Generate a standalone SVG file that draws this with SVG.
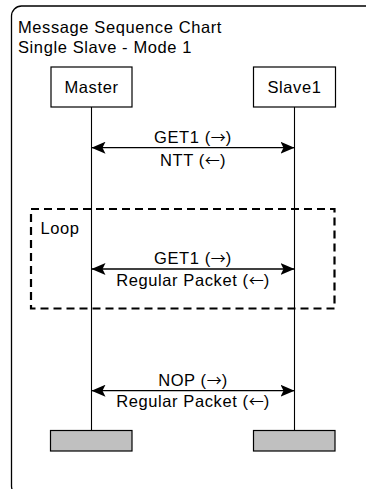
<svg xmlns="http://www.w3.org/2000/svg" width="366" height="489" viewBox="0 0 366 489">
<style>
text{font-family:"Liberation Sans",Arial,sans-serif;font-size:16.5px;letter-spacing:0.6px;fill:#000}
.c{text-anchor:middle}
.ar{font-family:"Noto Sans CJK SC","DejaVu Sans",sans-serif;font-size:15px;letter-spacing:0}
.box{fill:#fff;stroke:#000;stroke-width:1.2}
.end{fill:#c0c0c0;stroke:#000;stroke-width:1.2}
.life{stroke:#000;stroke-width:1.1;fill:none}
.msg{stroke:#000;stroke-width:1.3;fill:none;marker-start:url(#ah);marker-end:url(#ah)}
</style>
<defs>
<marker id="ah" markerUnits="userSpaceOnUse" markerWidth="15" markerHeight="12" refX="14" refY="6" orient="auto-start-reverse">
<path d="M0,0 L14,6 L0,12 L3,6 Z" fill="#000"/>
</marker>
</defs>
<g id="frame">
<rect x="11.5" y="6" width="370" height="490" rx="10" ry="10" fill="none" stroke="#000" stroke-width="1.3"/>
<text x="18" y="32.7">Message Sequence Chart</text>
<text x="18" y="53.3">Single Slave - Mode 1</text>
</g>
<g id="loop">
<rect x="31" y="209" width="303.5" height="99.5" fill="none" stroke="#000" stroke-width="2.2" stroke-dasharray="8,5"/>
<text x="40.5" y="234">Loop</text>
</g>
<g id="lifelines">
<line class="life" x1="91.5" y1="107" x2="91.5" y2="431"/>
<line class="life" x1="294.5" y1="107" x2="294.5" y2="431"/>
</g>
<g id="master">
<rect class="box" x="51" y="67" width="81" height="40"/>
<text class="c" x="91.5" y="93.3">Master</text>
</g>
<g id="slave1">
<rect class="box" x="253.5" y="67" width="82" height="40"/>
<text class="c" x="294.5" y="93.3">Slave1</text>
</g>
<g id="master-end">
<rect class="end" x="50.5" y="430.5" width="81.5" height="20.5"/>
</g>
<g id="slave1-end">
<rect class="end" x="253.5" y="430.5" width="81.5" height="20.5"/>
</g>
<g id="connectors">
<line class="msg" x1="91.5" y1="147.7" x2="294.5" y2="147.7"/>
<text class="c" x="193" y="143.3">GET1 (<tspan class="ar">→</tspan>)</text>
<text class="c" x="193" y="165.5">NTT (<tspan class="ar">←</tspan>)</text>
<line class="msg" x1="91.5" y1="269" x2="294.5" y2="269"/>
<text class="c" x="193" y="264">GET1 (<tspan class="ar">→</tspan>)</text>
<text class="c" x="193" y="286">Regular Packet (<tspan class="ar">←</tspan>)</text>
<line class="msg" x1="91.5" y1="390.7" x2="294.5" y2="390.7"/>
<text class="c" x="193" y="385.7">NOP (<tspan class="ar">→</tspan>)</text>
<text class="c" x="193" y="407.3">Regular Packet (<tspan class="ar">←</tspan>)</text>
</g>
</svg>
